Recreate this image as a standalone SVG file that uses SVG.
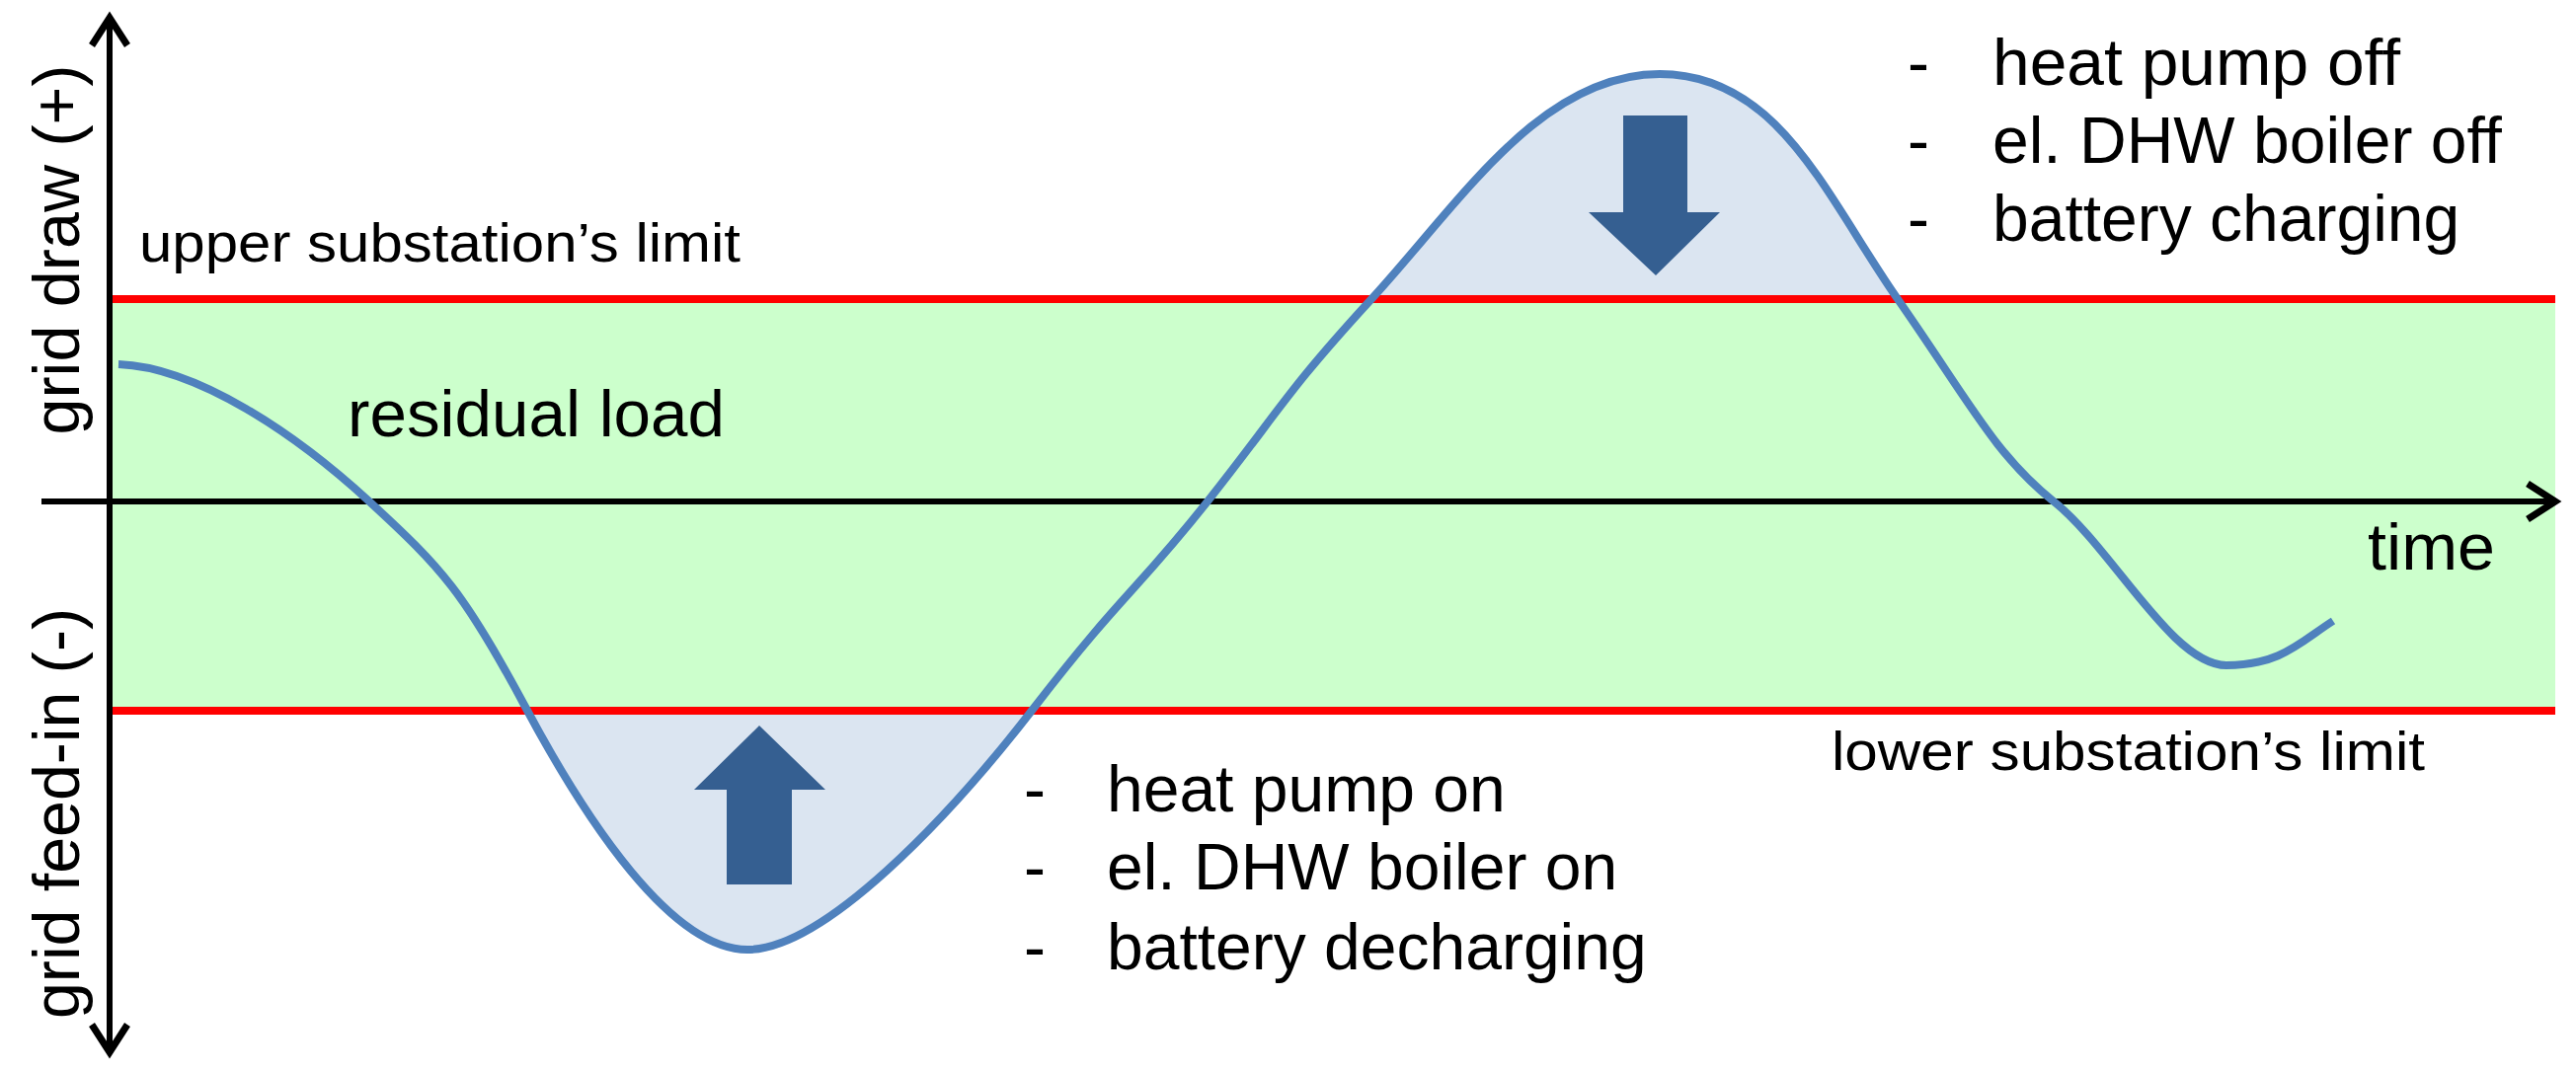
<svg xmlns="http://www.w3.org/2000/svg" width="2609" height="1087" viewBox="0 0 2609 1087">
<style>
text{font-family:"Liberation Sans",Arial,sans-serif;fill:#000}
.lim{font-size:56px}
.big{font-size:66px}
.red{stroke:#ff0000;stroke-width:8}
.ax{stroke:#000;stroke-width:6;fill:none}
.curve{fill:none;stroke:#4f81bd;stroke-width:8}
.shade{fill:#dbe5f1}
.arr{fill:#355f91}
</style>
<defs>
<clipPath id="top"><rect x="0" y="0" width="2609" height="303"/></clipPath>
<clipPath id="bot"><rect x="0" y="720" width="2609" height="400"/></clipPath>
<marker id="ah" markerWidth="44" markerHeight="44" refX="34" refY="22" orient="auto-start-reverse" markerUnits="userSpaceOnUse" viewBox="0 0 44 44"><path d="M6,4 L34,22 L6,40" fill="none" stroke="#000" stroke-width="7" stroke-linejoin="miter"/></marker>
</defs>
<rect x="111" y="303" width="2477" height="417" fill="#ccffcc"/>
<g id="shading">
<path class="shade" clip-path="url(#top)" d="M120,369 C200,372 300,440 374,508 S470,600 532,716 S680,962 757,962 S960,830 1048,716 S1150,600 1223,508 S1300,400 1389,303 S1560,75 1681,75 S1850,200 1922,303 S2020,460 2080,508 S2200,674 2255,674 S2330,650 2363,629 L2363,1087 L120,1087 Z"/>
<path class="shade" clip-path="url(#bot)" d="M120,369 C200,372 300,440 374,508 S470,600 532,716 S680,962 757,962 S960,830 1048,716 S1150,600 1223,508 S1300,400 1389,303 S1560,75 1681,75 S1850,200 1922,303 S2020,460 2080,508 S2200,674 2255,674 S2330,650 2363,629 L2363,0 L120,0 Z"/>
</g>
<g id="limits">
<line class="red" x1="111" y1="303" x2="2588" y2="303"/>
<line class="red" x1="111" y1="720" x2="2588" y2="720"/>
</g>
<g id="connectors">
<line class="ax" x1="111" y1="1066" x2="111" y2="18" marker-start="url(#ah)" marker-end="url(#ah)"/>
<line class="ax" x1="42" y1="508" x2="2588" y2="508" marker-end="url(#ah)"/>
</g>
<g id="residual-load">
<path class="curve" d="M120,369 C200,372 300,440 374,508 S470,600 532,716 S680,962 757,962 S960,830 1048,716 S1150,600 1223,508 S1300,400 1389,303 S1560,75 1681,75 S1850,200 1922,303 S2020,460 2080,508 S2200,674 2255,674 S2330,650 2363,629"/>
</g>
<g id="arrow-down"><polygon class="arr" points="1644,117 1709,117 1709,215 1742,215 1677,279 1609,215 1644,215"/></g>
<g id="arrow-up"><polygon class="arr" points="736,896 802,896 802,800 836,800 769,735 703,800 736,800"/></g>
<g id="labels">
<text class="lim" x="141" y="265" textLength="609" lengthAdjust="spacingAndGlyphs">upper substation’s limit</text>
<text class="lim" x="1855" y="780" textLength="601" lengthAdjust="spacingAndGlyphs">lower substation’s limit</text>
<text class="big" x="352" y="442" textLength="382" lengthAdjust="spacingAndGlyphs">residual load</text>
<text class="big" x="2398" y="577" textLength="129" lengthAdjust="spacingAndGlyphs">time</text>
<text class="big" transform="translate(80,253) rotate(-90)" text-anchor="middle" textLength="375" lengthAdjust="spacingAndGlyphs">grid draw (+)</text>
<text class="big" transform="translate(80,824) rotate(-90)" text-anchor="middle" textLength="416" lengthAdjust="spacingAndGlyphs">grid feed-in (-)</text>
</g>
<g id="actions-top">
<text class="big" x="1932" y="86">-</text><text class="big" x="2018" y="86" textLength="413" lengthAdjust="spacingAndGlyphs">heat pump off</text>
<text class="big" x="1932" y="165">-</text><text class="big" x="2018" y="165">el. DHW boiler off</text>
<text class="big" x="1932" y="244">-</text><text class="big" x="2018" y="244">battery charging</text>
</g>
<g id="actions-bottom">
<text class="big" x="1037" y="822">-</text><text class="big" x="1121" y="822">heat pump on</text>
<text class="big" x="1037" y="901">-</text><text class="big" x="1121" y="901">el. DHW boiler on</text>
<text class="big" x="1037" y="982">-</text><text class="big" x="1121" y="982">battery decharging</text>
</g>
</svg>
